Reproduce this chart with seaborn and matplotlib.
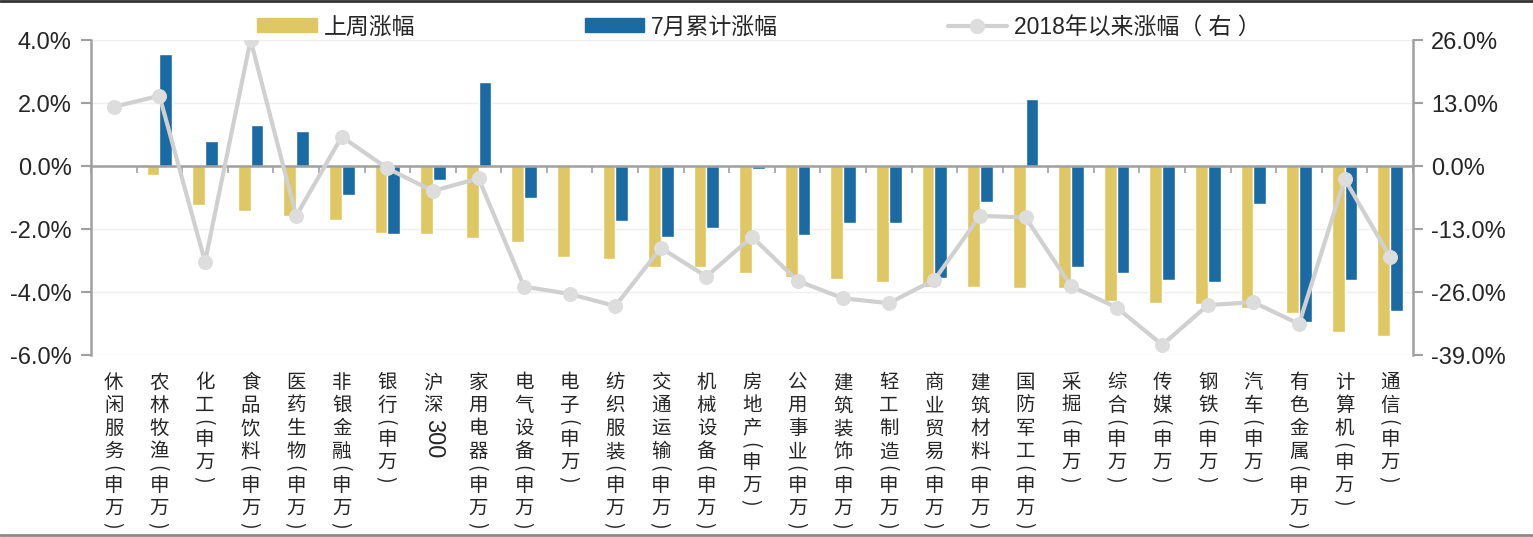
import numpy as np
import pandas as pd
import seaborn as sns
import matplotlib.pyplot as plt
import matplotlib.transforms as mtransforms
from matplotlib.lines import Line2D
from matplotlib.patches import Patch
from matplotlib.ticker import FuncFormatter, MultipleLocator

# data (%)
cats = ['休闲服务(申万)', '农林牧渔(申万)', '化工(申万)', '食品饮料(申万)', '医药生物(申万)',
        '非银金融(申万)', '银行(申万)', '沪深300', '家用电器(申万)', '电气设备(申万)',
        '电子(申万)', '纺织服装(申万)', '交通运输(申万)', '机械设备(申万)', '房地产(申万)',
        '公用事业(申万)', '建筑装饰(申万)', '轻工制造(申万)', '商业贸易(申万)', '建筑材料(申万)',
        '国防军工(申万)', '采掘(申万)', '综合(申万)', '传媒(申万)', '钢铁(申万)',
        '汽车(申万)', '有色金属(申万)', '计算机(申万)', '通信(申万)']
last_week = [-0.02, -0.27, -1.23, -1.42, -1.58, -1.70, -2.14, -2.17, -2.30, -2.40,
             -2.90, -2.96, -3.20, -3.21, -3.39, -3.51, -3.58, -3.69, -3.83, -3.85,
             -3.87, -3.88, -4.29, -4.36, -4.37, -4.52, -4.68, -5.28, -5.39]
july = [-0.01, 3.56, 0.80, 1.29, 1.11, -0.92, -2.15, -0.43, 2.66, -1.02,
        -0.01, -1.76, -2.24, -1.98, -0.08, -2.19, -1.80, -1.80, -3.55, -1.13,
        2.12, -3.20, -3.39, -3.62, -3.69, -1.20, -4.96, -3.62, -4.60]
since2018 = [12.2, 14.5, -19.8, 26.0, -10.3, 6.05, -0.48, -5.16, -2.54, -24.9,
             -26.4, -28.9, -16.9, -22.8, -14.6, -23.7, -27.3, -28.3, -23.5, -10.3,
             -10.6, -24.8, -29.2, -36.9, -28.7, -28.1, -32.6, -2.68, -18.8]
series_names = ['上周涨幅', '7月累计涨幅', '2018年以来涨幅（ 右 ）']

yellow = '#DFC763'
blue = '#1A6BA3'
line_c = '#D0D0D0'
axis_c = '#A0A0A0'
n = len(cats)

sns.set_theme(style='white')
plt.rcParams['font.family'] = ['Liberation Sans', 'Noto Sans CJK SC', 'DejaVu Sans']

fig = plt.figure(figsize=(15.33, 5.37), dpi=100)
ax = fig.add_axes([0.0594, 0.3389, 0.8623, 0.5866])

df = pd.DataFrame({
    'cat': cats * 2,
    'series': [series_names[0]] * n + [series_names[1]] * n,
    'value': last_week + july,
})
sns.barplot(data=df, x='cat', y='value', hue='series', order=cats,
            hue_order=series_names[:2], palette=[yellow, blue], saturation=1,
            width=0.56, gap=0, ax=ax, legend=False)

ax2 = ax.twinx()
sns.lineplot(x=np.arange(n), y=since2018, ax=ax2, color=line_c, lw=3,
             marker='o', markersize=10, markerfacecolor='#DDDDDD',
             markeredgecolor='#DDDDDD')

ax.set_xlim(-0.5, n - 0.5)
ax.set_ylim(-6, 4)
ax.yaxis.set_major_locator(MultipleLocator(2))
ax.yaxis.set_major_formatter(FuncFormatter(lambda v, p: f'{v:.1f}%'))
ax2.set_ylim(-39, 26)
ax2.yaxis.set_major_locator(MultipleLocator(13))
ax2.yaxis.set_major_formatter(FuncFormatter(lambda v, p: f'{v:.1f}%'))
ax.set_xlabel('')
ax.set_ylabel('')
ax2.set_ylabel('')

ax.yaxis.grid(True, color='#EFEFEF', lw=1)
ax.set_axisbelow(True)

# zero line with ticks at category boundaries
ax.spines['bottom'].set_position(('data', 0))
ax.spines['bottom'].set_color(axis_c)
ax.spines['bottom'].set_linewidth(1.8)
ax.set_xticks(np.arange(-0.5, n, 1))
ax.set_xticklabels([])
ax.tick_params(axis='x', direction='out', length=5, width=1.2, color=axis_c, bottom=True)
ax.spines['left'].set_color(axis_c)
ax.spines['left'].set_linewidth(1.8)
for s in ['top', 'right']:
    ax.spines[s].set_visible(False)
for s in ['top', 'left', 'bottom']:
    ax2.spines[s].set_visible(False)
ax2.spines['right'].set_color(axis_c)
ax2.spines['right'].set_linewidth(1.8)
ax.tick_params(axis='y', direction='out', length=7, width=1.5, color=axis_c, left=True,
               labelsize=17, pad=7)
ax2.tick_params(axis='y', direction='out', length=7, width=1.5, color=axis_c, right=True,
                labelsize=17, pad=6)

# vertical category labels, one glyph at a time (brackets turned sideways, half a row)
trans = mtransforms.blended_transform_factory(ax.transData, ax.transAxes)
label_top = -0.051
pitch = 16.6     # points per character row
half = 7.8       # points per bracket row
cjk = ['Noto Sans CJK SC', 'DejaVu Sans']
for i, c in enumerate(cats):
    cursor = 0
    if c == '沪深300':
        for ch in '沪深':
            ax.annotate(ch, xy=(i, label_top), xycoords=trans,
                        xytext=(0, -(cursor + pitch / 2)), textcoords='offset points',
                        ha='center', va='center', fontsize=14, family=cjk)
            cursor += pitch
        ax.annotate('300', xy=(i, label_top), xycoords=trans,
                    xytext=(0, -cursor - 1), textcoords='offset points',
                    ha='center', va='top', rotation=-90, fontsize=17)
        continue
    for ch in c:
        if ch in '()':
            ax.annotate(ch, xy=(i, label_top), xycoords=trans,
                        xytext=(0, -(cursor + half / 2)), textcoords='offset points',
                        ha='center', va='center_baseline', rotation=-90,
                        rotation_mode='anchor', fontsize=14, family=cjk)
            cursor += half
        else:
            ax.annotate(ch, xy=(i, label_top), xycoords=trans,
                        xytext=(0, -(cursor + pitch / 2)), textcoords='offset points',
                        ha='center', va='center', fontsize=14, family=cjk)
            cursor += pitch

handles = [Patch(color=yellow), Patch(color=blue),
           Line2D([], [], color=line_c, lw=3, marker='o', markersize=10,
                  markerfacecolor='#DDDDDD', markeredgecolor='#DDDDDD')]
fig.legend(handles, series_names, loc='center', bbox_to_anchor=(0.495, 1 - 27 / 537),
           ncol=3, frameon=False, fontsize=16.5, handlelength=2.6, handleheight=0.55,
           columnspacing=7.4, handletextpad=0.3)

# frame lines top and bottom
fig.add_artist(Line2D([0, 1], [0.999, 0.999], color='#333333', lw=2, transform=fig.transFigure))
fig.add_artist(Line2D([0, 1], [0.004, 0.004], color='#8A8A8A', lw=2, transform=fig.transFigure))

plt.savefig('out.png', dpi=100)
